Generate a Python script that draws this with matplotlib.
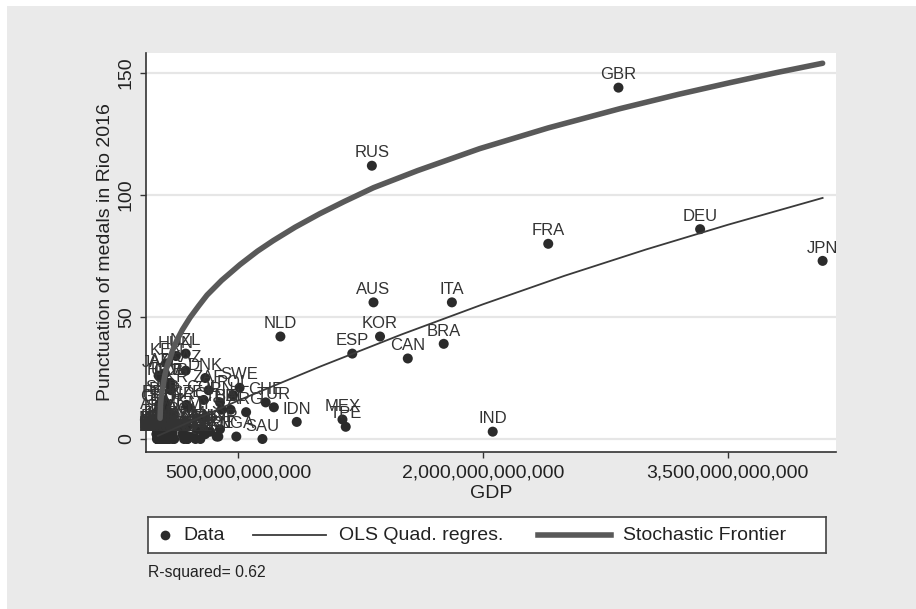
import matplotlib
matplotlib.use('Agg')
import matplotlib.pyplot as plt
from matplotlib.patches import Rectangle
from matplotlib.ticker import FuncFormatter

plt.rcParams['font.family'] = ['Liberation Sans', 'DejaVu Sans']

# ---------------- data ----------------
countries = [
    "GBR", "DEU", "FRA", "JPN", "RUS", "AUS", "ITA", "NLD", "KOR", "ESP",
    "BRA", "CAN", "IND", "MEX", "TPE", "IDN", "SAU", "TUR", "CHE", "ARG",
    "SWE", "NGA", "POL", "BEL", "THA", "IRN", "NOR", "AUT", "ARE", "COL",
    "ZAF", "DNK", "ISR", "EGY", "MYS", "IRL", "SGP", "PHL", "VEN", "FIN",
    "GRC", "VNM", "PRT", "CZE", "ROU", "NZL", "KAZ", "DZA", "QAT", "HUN",
    "PRI", "MAR", "UKR", "CUB", "SVK", "DOM", "UZB", "KEN", "ETH", "BLR",
    "AZE", "HRV", "SVN", "LTU", "TUN", "JOR", "SRB", "BHR", "CIV", "EST",
    "TTO", "PRK", "JAM", "GEO", "MNG", "ARM", "BHS", "TJK", "NER", "KOS",
    "MDA", "FJI", "BDI", "GRN",
    "CHL", "PAK", "BGD", "PER", "IRQ", "KWT", "ECU", "LKA", "LUX", "MMR",
    "URY", "CRI", "PAN", "LBN", "BGR", "GTM", "OMN", "TZA", "GHA", "LVA",
    "BOL", "PRY", "CMR", "UGA", "CYP", "ISL", "NPL", "HND", "SLV", "ZMB",
    "SEN", "BIH", "AFG", "ZWE", "MOZ", "BWA", "NAM", "MUS", "ALB", "MLT",
    "MKD", "NIC", "MDG", "HTI", "RWA", "MNE",
]
gdp = [
    2.83e12, 3.33e12, 2.40e12, 4.08e12, 1.32e12, 1.33e12, 1.81e12, 0.76e12, 1.37e12, 1.20e12,
    1.76e12, 1.54e12, 2.06e12, 1.14e12, 1.16e12, 0.86e12, 0.65e12, 0.72e12, 0.67e12, 0.55e12,
    0.51e12, 0.49e12, 0.47e12, 0.455e12, 0.40e12, 0.39e12, 0.39e12, 0.38e12, 0.37e12, 0.29e12,
    0.32e12, 0.30e12, 0.30e12, 0.33e12, 0.30e12, 0.29e12, 0.29e12, 0.29e12, 0.25e12, 0.23e12,
    0.195e12, 0.19e12, 0.20e12, 0.185e12, 0.178e12, 0.18e12, 0.18e12, 0.166e12, 0.16e12, 0.12e12,
    0.10e12, 0.10e12, 0.09e12, 0.087e12, 0.087e12, 0.068e12, 0.067e12, 0.063e12, 0.064e12, 0.055e12,
    0.053e12, 0.049e12, 0.043e12, 0.041e12, 0.043e12, 0.038e12, 0.037e12, 0.031e12, 0.031e12, 0.023e12,
    0.024e12, 0.017e12, 0.014e12, 0.014e12, 0.012e12, 0.0105e12, 0.009e12, 0.008e12, 0.007e12, 0.0064e12,
    0.0065e12, 0.0045e12, 0.003e12, 0.001e12,
    0.24e12, 0.27e12, 0.19e12, 0.19e12, 0.17e12, 0.11e12, 0.10e12, 0.08e12, 0.058e12, 0.06e12,
    0.053e12, 0.054e12, 0.052e12, 0.05e12, 0.05e12, 0.063e12, 0.07e12, 0.045e12, 0.038e12, 0.027e12,
    0.033e12, 0.027e12, 0.029e12, 0.027e12, 0.019e12, 0.017e12, 0.021e12, 0.02e12, 0.023e12, 0.021e12,
    0.014e12, 0.016e12, 0.019e12, 0.016e12, 0.015e12, 0.014e12, 0.011e12, 0.012e12, 0.011e12, 0.01e12,
    0.01e12, 0.012e12, 0.01e12, 0.009e12, 0.008e12, 0.004e12,
]
score = [
    144, 86, 80, 73, 112, 56, 56, 42, 42, 35,
    39, 33, 3, 8, 5, 7, 0, 13, 15, 11,
    21, 1, 18, 12, 12, 15, 4, 1, 1, 16,
    20, 25, 2, 3, 9, 4, 3, 2, 4, 1,
    13, 5, 1, 14, 7, 35, 28, 4, 2, 34,
    3, 1, 20, 23, 10, 1, 23, 31, 12, 15,
    27, 23, 8, 5, 3, 3, 16, 5, 4, 1,
    1, 14, 26, 12, 3, 9, 4, 3, 2, 3,
    1, 3, 2, 2,
    0, 0, 0, 0, 0, 0, 0, 0, 0, 0,
    0, 0, 0, 0, 0, 0, 0, 0, 0, 0,
    0, 0, 0, 0, 0, 0, 0, 0, 0, 0,
    0, 0, 0, 0, 0, 0, 0, 0, 0, 0,
    0, 0, 0, 0, 0, 0,
]

# Stochastic frontier curve, sampled along the drawn curve
frontier_gdp = [0.023e12, 0.026e12, 0.030e12, 0.035e12, 0.042e12, 0.050e12, 0.060e12, 0.072e12,
                0.084e12, 0.100e12, 0.127e12, 0.160e12, 0.207e12, 0.260e12, 0.311e12, 0.400e12,
                0.513e12, 0.620e12, 0.716e12, 0.850e12, 1.00e12, 1.15e12, 1.33e12, 1.60e12,
                1.98e12, 2.40e12, 2.84e12, 3.20e12, 3.51e12, 3.80e12, 4.08e12]
frontier_val = [8.5, 14.1, 17.0, 19.7, 21.8, 25.4, 28.3, 31.1,
                33.0, 36.4, 40.6, 44.8, 49.8, 54.6, 59.0, 65.0,
                71.5, 77.0, 81.3, 86.8, 92.3, 97.3, 103.0, 110.0,
                119.0, 127.5, 135.4, 141.3, 146.0, 150.2, 154.0]

# OLS quadratic regression line, sampled along the drawn line
ols_gdp = [0.01e12, 0.5e12, 1.0e12, 1.5e12, 2.0e12, 2.5e12, 3.0e12, 3.5e12, 4.08e12]
ols_val = [1.3, 15.7, 29.6, 42.8, 55.2, 66.9, 77.7, 87.8, 98.8]

x_ticks = [5e11, 2e12, 3.5e12]
y_ticks = [0, 50, 100, 150]
r2_text = "R-squared= 0.62"

# ---------------- figure ----------------
W, H = 916, 609
fig = plt.figure(figsize=(W / 100, H / 100), dpi=100, facecolor='white')
fig.patches.append(Rectangle((7 / W, 0), 1 - 7 / W, 1 - 6 / H, transform=fig.transFigure,
                             facecolor='#EAEAEA', edgecolor='none', zorder=-10))

ax = fig.add_axes([146 / W, 1 - 452 / H, (836 - 146) / W, (452 - 53) / H])
ax.set_facecolor('white')

dark = '#2b2b2b'
ax.scatter(gdp, score, s=52, color=dark, edgecolors='none', zorder=3)
for c, xv, yv in zip(countries, gdp, score):
    ax.annotate(c, (xv, yv), xytext=(0, 6), textcoords='offset points',
                ha='center', va='baseline', fontsize=12, color='#333333',
                zorder=4, annotation_clip=False)

ax.plot(ols_gdp, ols_val, color='#3a3a3a', lw=1.3, zorder=5)
ax.plot(frontier_gdp, frontier_val, color='#595959', lw=4, zorder=6,
        solid_capstyle='round', solid_joinstyle='round')

ax.set_xlim(-0.063e12, 4.162e12)
ax.set_ylim(-5.33, 158.2)

ax.set_xticks(x_ticks)
ax.xaxis.set_major_formatter(FuncFormatter(lambda v, p: f"{v:,.0f}"))
ax.set_yticks(y_ticks)

ax.grid(axis='y', color='#E6E6E6', lw=1.6, zorder=0)
ax.set_axisbelow(True)

for s in ['top', 'right']:
    ax.spines[s].set_visible(False)
for s in ['left', 'bottom']:
    ax.spines[s].set_color('#333333')
    ax.spines[s].set_linewidth(1.2)

ax.tick_params(axis='both', direction='out', length=4, width=1, color='#333333',
               labelsize=14, labelcolor='#222222')
ax.tick_params(axis='x', pad=5)
ax.tick_params(axis='y', pad=4, labelrotation=90)
for t in ax.get_yticklabels():
    t.set_va('center')

ax.set_xlabel('GDP', fontsize=14, color='#222222', va='center')
ax.xaxis.set_label_coords(0.5, (452 - 494) / 399)
ax.set_ylabel('Punctuation of medals in Rio 2016', fontsize=14, color='#222222', va='center')
ax.yaxis.set_label_coords((106 - 146) / 690, 0.5)

# ---------------- legend box ----------------
lg = fig.add_axes([148 / W, 1 - 553 / H, 678 / W, 36 / H])
lg.set_xlim(0, 678)
lg.set_ylim(0, 36)
lg.set_xticks([])
lg.set_yticks([])
lg.set_facecolor('white')
for s in lg.spines.values():
    s.set_color('#444444')
    s.set_linewidth(1.2)
lg.plot([17], [18], 'o', color=dark, markersize=7, markeredgewidth=0)
lg.text(35, 18, 'Data', fontsize=14, va='center', ha='left', color='#222222')
lg.plot([105, 178], [18, 18], color='#3a3a3a', lw=1.3)
lg.text(191, 18, 'OLS Quad. regres.', fontsize=14, va='center', ha='left', color='#222222')
lg.plot([390, 463], [18, 18], color='#595959', lw=4)
lg.text(475, 18, 'Stochastic Frontier', fontsize=14, va='center', ha='left', color='#222222')

fig.text(148 / W, 1 - 572 / H, r2_text, fontsize=11.3, va='center', ha='left', color='#222222')

fig.savefig('out.png', dpi=100, facecolor=fig.get_facecolor())
